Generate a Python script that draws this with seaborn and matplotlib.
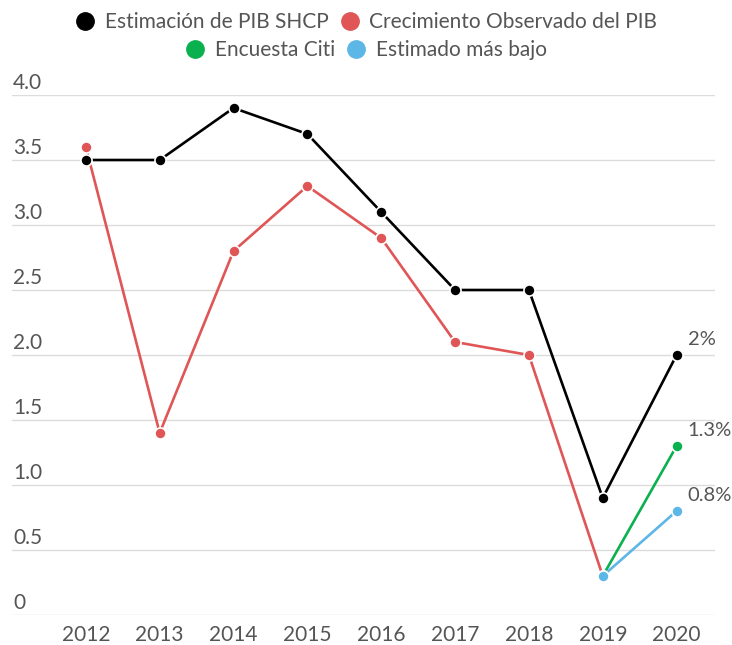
import numpy as np
import pandas as pd
import seaborn as sns
import matplotlib.pyplot as plt
from matplotlib.lines import Line2D
import matplotlib.transforms as mtransforms

# data
years = [2012, 2013, 2014, 2015, 2016, 2017, 2018, 2019, 2020]
shcp = [3.5, 3.5, 3.9, 3.7, 3.1, 2.5, 2.5, 0.9, 2.0]
observado_years = [2012, 2013, 2014, 2015, 2016, 2017, 2018, 2019]
observado = [3.6, 1.4, 2.8, 3.3, 2.9, 2.1, 2.0, 0.3]
citi_years = [2019, 2020]
citi = [0.3, 1.3]
bajo_years = [2019, 2020]
bajo = [0.3, 0.8]
end_labels = ["2%", "1.3%", "0.8%"]
y_ticks = [0, 0.5, 1.0, 1.5, 2.0, 2.5, 3.0, 3.5, 4.0]
y_tick_labels = ["0", "0.5", "1.0", "1.5", "2.0", "2.5", "3.0", "3.5", "4.0"]

names = ["Estimación de PIB SHCP", "Crecimiento Observado del PIB",
         "Encuesta Citi", "Estimado más bajo"]
colors = ["#000000", "#e05555", "#0bb04f", "#5db7e6"]

sns.set_theme(style="white")
plt.rcParams['font.family'] = ['Lato', 'DejaVu Sans']
text_color = "#555555"

fig = plt.figure(figsize=(7.32, 6.45), dpi=100)
ax = fig.add_axes([12 / 732, 30 / 645, 703 / 732, 520 / 645])

line_kw = dict(marker="o", markersize=8, linewidth=1.9,
               markeredgecolor="white", markeredgewidth=1.2, clip_on=False)

# draw order: red first, then black on top, then green and blue
sns.lineplot(x=observado_years, y=observado, color=colors[1], ax=ax, **line_kw)
sns.lineplot(x=years, y=shcp, color=colors[0], ax=ax, **line_kw)
sns.lineplot(x=citi_years, y=citi, color=colors[2], ax=ax, **line_kw)
sns.lineplot(x=bajo_years, y=bajo, color=colors[3], ax=ax, **line_kw)

ax.set_xlim(2011.0, 2020.52)
ax.set_ylim(0, 4.0)

# gridlines only, no spines
for s in ax.spines.values():
    s.set_visible(False)
ax.set_yticks(y_ticks)
ax.yaxis.grid(True, color="#dcdcdc", linewidth=1)
ax.set_axisbelow(True)
ax.tick_params(axis="y", length=0, labelleft=False)
ax.set_xticks(years)
ax.set_xticklabels([str(y) for y in years])
ax.tick_params(axis="x", length=0, pad=7, labelsize=15, colors=text_color)

# y labels sit above the gridlines at the left edge
trans = ax.get_yaxis_transform() + mtransforms.ScaledTranslation(1 / 100, 6 / 100, fig.dpi_scale_trans)
for v, lab in zip(y_ticks, y_tick_labels):
    ax.text(0, v, lab, transform=trans, ha="left", va="baseline",
            fontsize=15, color=text_color)

# end labels for 2020
end_vals = [shcp[-1], citi[-1], bajo[-1]]
for v, lab in zip(end_vals, end_labels):
    ax.annotate(lab, (2020, v), xytext=(8, 5), textcoords="offset points",
                ha="left", va="bottom", fontsize=14.5, color=text_color)

# legend in two centred rows
def handle(c):
    return Line2D([], [], marker="o", linestyle="", markersize=12.5,
                  markerfacecolor=c, markeredgecolor=c)

leg_kw = dict(loc="center", ncol=2, frameon=False, fontsize=15,
              handletextpad=0.45, columnspacing=0.5, handlelength=1.0,
              labelcolor=text_color)
fig.legend([handle(colors[0]), handle(colors[1])], names[:2],
           bbox_to_anchor=(0.5, 1 - 22 / 645), **leg_kw)
fig.legend([handle(colors[2]), handle(colors[3])], names[2:],
           bbox_to_anchor=(0.5, 1 - 50 / 645), **leg_kw)

fig.savefig("out.png", dpi=100)
